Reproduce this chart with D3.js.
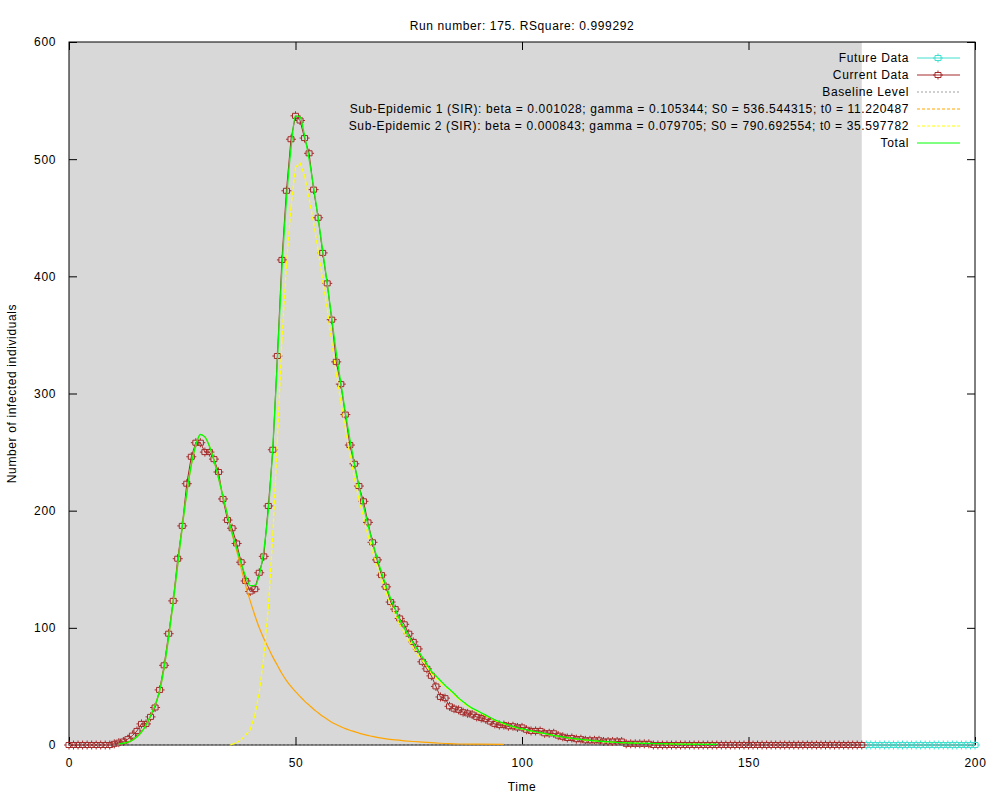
<!DOCTYPE html>
<html>
<head>
<meta charset="utf-8">
<script src="https://cdn.jsdelivr.net/npm/d3@7"></script>
<style>
  body { margin: 0; background: #fff; }
  text { font-family: "Liberation Sans", Arial, sans-serif; font-size: 12px; letter-spacing: 0.62px; fill: #000; }
</style>
</head>
<body>
<svg id="chart" width="1000" height="800"></svg>
<script>
// observed counts, one per day, days 0..175 (fitted part)
var currentCounts = [
  0, 0, 0, 0, 0, 0, 0, 0, 0, 0,
  1, 2, 3, 5, 8, 12, 18, 18, 24, 32,
  47, 68, 95, 123, 159, 187, 223, 246, 258, 258,
  250, 250, 244, 233, 210, 192, 185, 172, 156, 140,
  131, 133, 147, 161, 204, 252, 332, 414, 473, 517,
  537, 533, 518, 505, 474, 450, 420, 394, 363, 327,
  308, 282, 256, 240, 221, 208, 190, 173, 158, 145,
  135, 122, 116, 108, 103, 95, 88, 82, 71, 65,
  59, 50, 41, 40, 33, 31, 30, 28, 27, 26,
  24, 23, 22, 20, 18, 17, 17, 16, 16, 15,
  15, 13, 12, 12, 12, 10, 10, 10, 8, 7,
  6, 6, 5, 5, 4, 4, 4, 4, 3, 3,
  3, 3, 3, 1, 1, 1, 1, 1, 1, 0,
  0, 0, 0, 0, 0, 0, 0, 0, 0, 0,
  0, 0, 0, 0, 0, 0, 0, 0, 0, 0,
  0, 0, 0, 0, 0, 0, 0, 0, 0, 0,
  0, 0, 0, 0, 0, 0, 0, 0, 0, 0,
  0, 0, 0, 0, 0, 0
];
// days 176..200 (not fitted)
var futureCounts = [
  0, 0, 0, 0, 0, 0, 0, 0, 0, 0,
  0, 0, 0, 0, 0, 0, 0, 0, 0, 0,
  0, 0, 0, 0, 0
];

// fitted curves
var totalDays = [11, 12, 13, 14, 15, 16, 17, 18, 19, 20, 21, 22, 23, 24, 25, 26, 27, 28, 29, 30,
  31, 32, 33, 34, 35, 36, 37, 38, 39, 40, 41, 42, 43, 44, 45, 46, 47, 48, 49, 50,
  51, 52, 53, 54, 55, 56, 57, 58, 59, 60, 61, 62, 63, 64, 65, 66, 67, 68, 69, 70,
  71, 72, 73, 74, 75, 76, 77, 78, 79, 80, 81, 82, 83, 84, 85, 86, 87, 88, 89, 90,
  91, 92, 93, 94, 95, 96, 97, 98, 99, 100, 102, 104, 106, 108, 110, 112, 114, 116, 118, 120,
  122, 125, 130, 135, 143];
var totalValues = [1, 1.5, 2.5, 4, 7, 11, 17, 25, 34, 46, 66, 92, 122, 154, 186, 215, 239, 256, 265, 263,
  255, 243, 228, 212, 196, 181, 168, 155, 144, 136, 136, 145, 166, 200, 255, 328, 406, 465, 509, 537,
  536, 520, 500, 476, 450, 422, 394, 364, 335, 309, 284, 261, 240, 221, 204, 188, 173, 160, 147, 136,
  125, 116, 107, 100, 93, 87, 81, 75, 69, 63, 59, 55, 51, 47.5, 44, 40, 37, 34, 31.5, 29.5,
  27.5, 25.5, 23.5, 21.5, 20, 18.5, 17, 15.8, 14.7, 13.7, 12, 10.5, 9, 7.5, 6.3, 5.2, 4.3, 3.6, 3, 2.5,
  2, 1.6, 1.1, 0.8, 0.5];

var sir1Days = [11, 12, 13, 14, 15, 16, 17, 18, 19, 20, 21, 22, 23, 24, 25, 26, 27, 28, 29, 30,
  31, 32, 33, 34, 35, 36, 37, 38, 39, 40, 41, 42, 43, 44, 45, 46, 47, 48, 49, 50,
  51, 52, 53, 54, 55, 56, 57, 58, 59, 60, 61, 62, 63, 64, 65, 66, 67, 68, 70, 72,
  74, 76, 78, 80, 82, 84, 86, 90, 96];
var sir1Values = [1, 1.5, 2.5, 4, 7, 11, 17, 25, 34, 46, 66, 92, 122, 154, 186, 215, 239, 256, 265, 263,
  255, 243, 228, 212, 196, 180, 166, 151, 136, 123, 111, 100, 91, 83, 75, 68, 61, 55, 50, 45.5,
  41.5, 37.5, 34, 30.5, 27.5, 24.5, 22, 19.5, 17.5, 15.7, 14, 12.6, 11.4, 10.2, 9.1, 8.2, 7.3, 6.5, 5.2, 4.3,
  3.6, 3, 2.5, 2, 1.5, 1.1, 0.85, 0.7, 0.5];

var sir2Days = [35.6, 36, 37, 38, 39, 40, 41, 42, 43, 44, 45, 46, 47, 48, 49, 50, 51, 52, 53, 54,
  55, 56, 57, 58, 59, 60, 61, 62, 63, 64, 65, 66, 67, 68, 69, 70, 71, 72, 73, 74,
  75, 76, 77, 78, 79, 80, 82, 84, 86, 88, 90, 92, 94, 96, 98, 100, 102, 104, 106, 108,
  110, 112, 114, 116, 118, 120, 122, 125, 130, 135, 143];
var sir2Values = [0, 0.5, 2, 4.5, 8.5, 13, 25, 45, 75, 117, 180, 260, 345, 410, 459, 493, 497, 486, 466, 446,
  422, 397, 372, 344, 317, 293, 270, 248, 228, 210, 194, 179, 165, 153, 141, 130, 120, 111, 103, 96,
  89, 83, 77, 72, 67, 61, 53, 46.5, 39, 33, 29, 25, 21, 18, 15.5, 13.5, 11.8, 10.3, 8.9, 7.4,
  6.2, 5.1, 4.2, 3.5, 2.9, 2.4, 2, 1.6, 1.1, 0.8, 0.5];

var baselineLevel = 0;
var runNumber = 175;
var rSquare = "0.999292";
var xTicks = [0, 50, 100, 150, 200];
var yTicks = [0, 100, 200, 300, 400, 500, 600];
var legendLabels = [
  "Future Data",
  "Current Data",
  "Baseline Level",
  "Sub-Epidemic 1 (SIR): beta = 0.001028; gamma = 0.105344; S0 = 536.544315; t0 = 11.220487",
  "Sub-Epidemic 2 (SIR): beta = 0.000843; gamma = 0.079705; S0 = 790.692554; t0 = 35.597782",
  "Total"
];

var svg = d3.select("#chart");
var plotLeft = 69, plotRight = 975, plotTop = 42, plotBottom = 745;

var x = d3.scaleLinear().domain([0, 200]).range([plotLeft, plotRight]);
var y = d3.scaleLinear().domain([0, 600]).range([plotBottom, plotTop]);

var currentData = currentCounts.map(function (v, i) { return [i, v]; });
var futureData = futureCounts.map(function (v, i) { return [currentCounts.length + i, v]; });
var zipPts = function (days, vals) { return days.map(function (d, i) { return [d, vals[i]]; }); };

// shaded fitting window
svg.append("rect")
  .attr("x", x(0)).attr("y", plotTop)
  .attr("width", x(runNumber) - x(0)).attr("height", plotBottom - plotTop)
  .attr("fill", "#d8d8d8");

svg.append("defs").append("clipPath").attr("id", "clip")
  .append("rect").attr("x", plotLeft - 10).attr("y", plotTop - 2)
  .attr("width", plotRight - plotLeft + 30).attr("height", plotBottom - plotTop + 10);

// axes, ticks pointing inward and mirrored
svg.append("g").attr("transform", "translate(0," + plotBottom + ")")
  .call(d3.axisBottom(x).tickValues(xTicks).tickSize(-8).tickPadding(13));
svg.append("g").attr("transform", "translate(" + plotLeft + ",0)")
  .call(d3.axisLeft(y).tickValues(yTicks).tickSize(-8).tickPadding(13));
svg.append("g").attr("transform", "translate(0," + plotTop + ")")
  .call(d3.axisTop(x).tickValues(xTicks).tickSize(-8).tickFormat(""));
svg.append("g").attr("transform", "translate(" + plotRight + ",0)")
  .call(d3.axisRight(y).tickValues(yTicks).tickSize(-8).tickFormat(""));
svg.selectAll(".domain").remove();
svg.selectAll(".tick line").attr("stroke", "#000");
svg.selectAll(".tick text").attr("font-family", null).attr("font-size", null);

svg.append("rect")
  .attr("x", plotLeft).attr("y", plotTop)
  .attr("width", plotRight - plotLeft).attr("height", plotBottom - plotTop)
  .attr("fill", "none").attr("stroke", "#000");

var plot = svg.append("g").attr("clip-path", "url(#clip)");

var straight = d3.line().x(function (d) { return x(d[0]); }).y(function (d) { return y(d[1]); });
var smooth = d3.line().curve(d3.curveMonotoneX)
  .x(function (d) { return x(d[0]); }).y(function (d) { return y(d[1]); });

var markerPath = "M-3,-2.5h6v5h-6z M0,-4.5v2 M0,2.5v2 M-5,0h2 M3,0h2";

function drawSeries(data, color) {
  plot.append("path").datum(data)
    .attr("d", straight).attr("fill", "none").attr("stroke", color).attr("stroke-width", 1);
  plot.append("g").selectAll("path").data(data).enter().append("path")
    .attr("transform", function (d) { return "translate(" + x(d[0]) + "," + y(d[1]) + ")"; })
    .attr("d", markerPath).attr("fill", "none").attr("stroke", color).attr("stroke-width", 1);
}

drawSeries(futureData, "#40e0d0");
drawSeries(currentData, "#a52a2a");

// baseline
plot.append("line")
  .attr("x1", x(0)).attr("x2", x(200)).attr("y1", y(baselineLevel)).attr("y2", y(baselineLevel))
  .attr("stroke", "#a0a0a0").attr("stroke-dasharray", "2,2");

// sub-epidemic 1
plot.append("path").datum(zipPts(sir1Days, sir1Values))
  .attr("d", smooth).attr("fill", "none").attr("stroke", "#ffa500").attr("stroke-width", 1.2);

// sub-epidemic 2, dash pattern restarted on each segment
var sir2Pts = zipPts(sir2Days, sir2Values);
plot.append("g").selectAll("line").data(d3.pairs(sir2Pts)).enter().append("line")
  .attr("x1", function (d) { return x(d[0][0]); }).attr("y1", function (d) { return y(d[0][1]); })
  .attr("x2", function (d) { return x(d[1][0]); }).attr("y2", function (d) { return y(d[1][1]); })
  .attr("stroke", "#ffff00").attr("stroke-width", 1.2).attr("stroke-dasharray", "4,2");

// total
plot.append("path").datum(zipPts(totalDays, totalValues))
  .attr("d", smooth).attr("fill", "none").attr("stroke", "#00ff00").attr("stroke-width", 1.3);

// legend
var legendStyles = [
  { color: "#40e0d0", dash: null, mark: true },
  { color: "#a52a2a", dash: null, mark: true },
  { color: "#a0a0a0", dash: "2,2", mark: false },
  { color: "#ffa500", dash: "3,2", mark: false },
  { color: "#ffff00", dash: "3,2", mark: false },
  { color: "#00ff00", dash: null, mark: false }
];
var legend = svg.append("g");
legendLabels.forEach(function (label, i) {
  var ly = 58 + i * 17;
  legend.append("text").attr("x", 909).attr("y", ly).attr("dy", "0.35em")
    .attr("text-anchor", "end").text(label);
  legend.append("line").attr("x1", 917).attr("x2", 960).attr("y1", ly).attr("y2", ly)
    .attr("stroke", legendStyles[i].color).attr("stroke-dasharray", legendStyles[i].dash);
  if (legendStyles[i].mark) {
    legend.append("path").attr("transform", "translate(938," + ly + ")")
      .attr("d", markerPath).attr("fill", "none").attr("stroke", legendStyles[i].color);
  }
});

// titles
svg.append("text").attr("x", (plotLeft + plotRight) / 2).attr("y", 26).attr("dy", "0.35em")
  .attr("text-anchor", "middle").text("Run number: " + runNumber + ". RSquare: " + rSquare);
svg.append("text").attr("x", (plotLeft + plotRight) / 2).attr("y", 787).attr("dy", "0.35em")
  .attr("text-anchor", "middle").text("Time");
svg.append("text").attr("transform", "translate(12," + (plotTop + plotBottom) / 2 + ") rotate(-90)")
  .attr("dy", "0.35em").attr("text-anchor", "middle").text("Number of infected individuals");
</script>
</body>
</html>
